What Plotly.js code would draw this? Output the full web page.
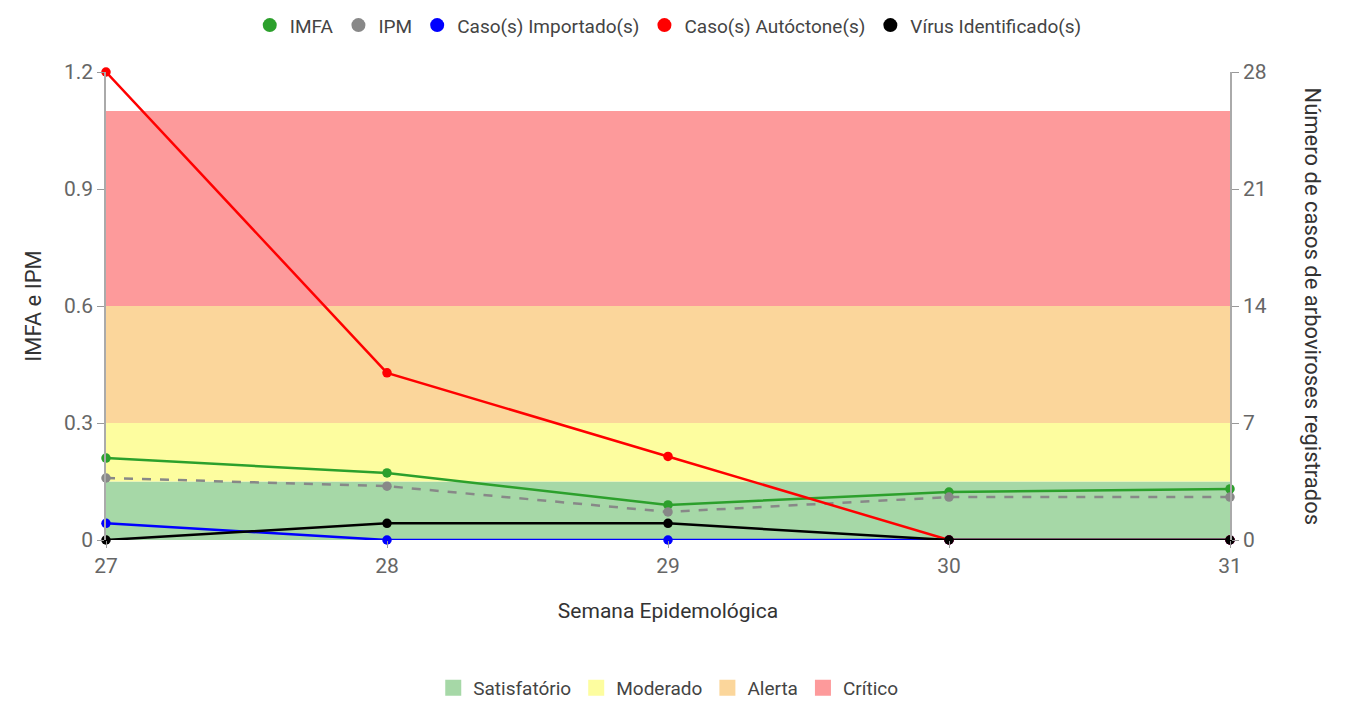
<!DOCTYPE html>
<html>
<head>
<meta charset="utf-8">
<script src="https://cdn.plot.ly/plotly-3.0.1.min.js"></script>
<style>html,body{margin:0;padding:0;background:#fff;}#chart{width:1350px;height:702px;}</style>
</head>
<body>
<div id="chart"></div>
<script>
const weeks = [27, 28, 29, 30, 31];
const imfa = [0.21, 0.172, 0.09, 0.123, 0.131];
const ipm = [0.159, 0.138, 0.072, 0.11, 0.11];
const importados = [1, 0, 0, 0, 0];
const autoctones = [28, 10, 5, 0, 0];
const virus = [0, 1, 1, 0, 0];

const seriesNames = ['IMFA', 'IPM', 'Caso(s) Importado(s)', 'Caso(s) Autóctone(s)', 'Vírus Identificado(s)'];
const seriesColors = ['#2ca02c', '#888888', '#0000ff', '#ff0000', '#000000'];

const bandNames = ['Satisfatório', 'Moderado', 'Alerta', 'Crítico'];
const bandLow = [0, 0.15, 0.3, 0.6];
const bandHigh = [0.15, 0.3, 0.6, 1.1];
const bandColors = ['#a6d8a7', '#fdfd9f', '#fbd69b', '#fd9a9b'];

const leftTicks = [0, 0.3, 0.6, 0.9, 1.2];
const rightTicks = [0, 7, 14, 21, 28];

const font = 'Roboto, "Open Sans", sans-serif';

function line(i, y, axis, dash) {
  return {
    x: weeks, y: y, name: seriesNames[i], type: 'scatter', mode: 'lines+markers',
    yaxis: axis, showlegend: false, cliponaxis: false,
    line: {color: seriesColors[i], width: 2.5, dash: dash || 'solid'},
    marker: {color: seriesColors[i], size: 9.5, symbol: 'circle'}
  };
}

const traces = [
  line(0, imfa, 'y'),
  line(1, ipm, 'y', 'dash'),
  line(2, importados, 'y2'),
  line(3, autoctones, 'y2'),
  line(4, virus, 'y2')
];

seriesNames.forEach((n, i) => {
  traces.push({
    x: [null], y: [null], name: n, type: 'scatter', mode: 'markers',
    legend: 'legend', showlegend: true,
    marker: {color: seriesColors[i], size: 14, symbol: 'circle'}
  });
});

bandNames.forEach((n, i) => {
  traces.push({
    x: [null], y: [null], name: n, type: 'scatter', mode: 'markers',
    legend: 'legend2', showlegend: true,
    marker: {color: bandColors[i], size: 24, symbol: 'square'}
  });
});

const shapes = bandNames.map((n, i) => ({
  type: 'rect', xref: 'x domain', yref: 'y', x0: 0, x1: 1,
  y0: bandLow[i], y1: bandHigh[i], fillcolor: bandColors[i],
  line: {width: 0}, layer: 'below'
}));

const layout = {
  width: 1350, height: 702,
  margin: {l: 106, r: 120, t: 72, b: 162},
  paper_bgcolor: '#fff', plot_bgcolor: '#fff',
  font: {family: font, color: '#444'},
  showlegend: true,
  legend: {orientation: 'h', x: 0.495, xref: 'container', xanchor: 'center', y: 0.964, yref: 'container', yanchor: 'middle',
           font: {size: 19, color: '#444', family: font}, bgcolor: 'rgba(0,0,0,0)'},
  legend2: {orientation: 'h', x: 0.495, xref: 'container', xanchor: 'center', y: 0.02, yref: 'container', yanchor: 'middle',
            font: {size: 19, color: '#444', family: font}, bgcolor: 'rgba(0,0,0,0)'},
  xaxis: {
    range: [27, 31], tickvals: weeks, ticktext: weeks.map(String),
    showgrid: false, zeroline: false, showline: false,
    ticks: 'outside', ticklen: 7, tickcolor: '#999',
    tickfont: {size: 21, color: '#666', family: font},
    title: {text: 'Semana Epidemológica', font: {size: 21, color: '#333', family: font}, standoff: 26}
  },
  yaxis: {
    range: [0, 1.2], tickvals: leftTicks, ticktext: ['0', '0.3', '0.6', '0.9', '1.2'],
    showgrid: false, zeroline: false, showline: true, linecolor: '#aaa', linewidth: 1.5,
    ticks: 'outside', ticklen: 7, tickcolor: '#999',
    tickfont: {size: 21, color: '#666', family: font},
    title: {text: 'IMFA e IPM', font: {size: 22, color: '#333', family: font}, standoff: 16}
  },
  yaxis2: {
    range: [0, 28], tickvals: rightTicks, ticktext: rightTicks.map(String),
    overlaying: 'y', side: 'right',
    showgrid: false, zeroline: false, showline: true, linecolor: '#aaa', linewidth: 1.5,
    ticks: 'outside', ticklen: 7, tickcolor: '#999',
    tickfont: {size: 21, color: '#666', family: font}
  },
  shapes: shapes,
  annotations: [{
    text: 'Número de casos de arboviroses registrados', xref: 'paper', yref: 'paper',
    x: 1, xshift: 97, y: 0.5, textangle: 90, showarrow: false,
    font: {size: 22, color: '#333', family: font}
  }]
};

Plotly.newPlot('chart', traces, layout, {displayModeBar: false, responsive: false});
</script>
</body>
</html>
